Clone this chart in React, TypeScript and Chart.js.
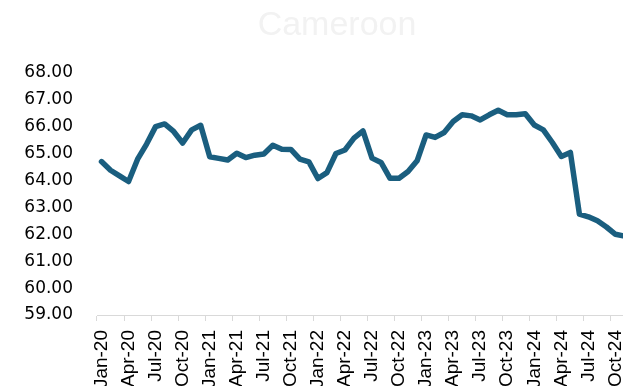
import React, { useEffect, useRef } from "react";
import { Chart, registerables } from "chart.js";

Chart.register(...registerables);

const TITLE = "Cameroon";

const categories = [
  "Jan-20", "Feb-20", "Mar-20", "Apr-20", "May-20", "Jun-20", "Jul-20", "Aug-20", "Sep-20", "Oct-20", "Nov-20", "Dec-20",
  "Jan-21", "Feb-21", "Mar-21", "Apr-21", "May-21", "Jun-21", "Jul-21", "Aug-21", "Sep-21", "Oct-21", "Nov-21", "Dec-21",
  "Jan-22", "Feb-22", "Mar-22", "Apr-22", "May-22", "Jun-22", "Jul-22", "Aug-22", "Sep-22", "Oct-22", "Nov-22", "Dec-22",
  "Jan-23", "Feb-23", "Mar-23", "Apr-23", "May-23", "Jun-23", "Jul-23", "Aug-23", "Sep-23", "Oct-23", "Nov-23", "Dec-23",
  "Jan-24", "Feb-24", "Mar-24", "Apr-24", "May-24", "Jun-24", "Jul-24", "Aug-24", "Sep-24", "Oct-24", "Nov-24", "Dec-24",
];

const values = [
  64.70, 64.38, 64.17, 63.96, 64.79, 65.35, 66.00, 66.10, 65.82, 65.39, 65.88, 66.05,
  64.88, 64.82, 64.76, 65.01, 64.85, 64.94, 64.98, 65.31, 65.16, 65.15, 64.79, 64.69,
  64.07, 64.29, 65.00, 65.13, 65.57, 65.84, 64.83, 64.67, 64.08, 64.08, 64.33, 64.73,
  65.69, 65.60, 65.78, 66.19, 66.44, 66.40, 66.25, 66.44, 66.61, 66.44, 66.44, 66.48,
  66.06, 65.88, 65.41, 64.89, 65.04, 62.75, 62.65, 62.50, 62.27, 62.00, 61.93, 61.85,
];

const Y_MIN = 59;
const Y_MAX = 68;
const Y_STEP = 1;
const LABEL_EVERY = 3;

export default function App() {
  const canvasRef = useRef<HTMLCanvasElement | null>(null);

  useEffect(() => {
    const canvas = canvasRef.current;
    if (!canvas) return;
    const chart = new Chart(canvas, {
      type: "line",
      data: {
        labels: categories,
        datasets: [
          {
            data: values,
            borderColor: "#1A5E7F",
            backgroundColor: "#1A5E7F",
            borderWidth: 5.5,
            pointRadius: 0,
            tension: 0,
            borderJoinStyle: "round",
            borderCapStyle: "round",
            fill: false,
          },
        ],
      },
      options: {
        responsive: false,
        animation: false,
        devicePixelRatio: 1,
        layout: { padding: 0 },
        plugins: {
          legend: { display: false },
          tooltip: { enabled: false },
          title: {
            display: true,
            text: TITLE,
            color: "#F2F2F2",
            font: { family: "'Liberation Sans', Arial, sans-serif", size: 34, weight: "normal" },
            padding: { top: 5, bottom: 27 },
          },
        },
        scales: {
          x: {
            type: "category",
            offset: true,
            afterFit: (s: any) => {
              s.height = 85;
            },
            grid: {
              display: true,
              offset: true,
              drawOnChartArea: false,
              drawTicks: true,
              tickLength: 6,
              color: (ctx: any) => (ctx.index % LABEL_EVERY === 0 ? "#D9D9D9" : "rgba(0,0,0,0)"),
            },
            border: { display: true, color: "#D9D9D9", width: 1 },
            ticks: {
              autoSkip: false,
              minRotation: 90,
              maxRotation: 90,
              padding: 9,
              color: "#000000",
              font: { family: "'Liberation Sans', Arial, sans-serif", size: 19 },
              callback: (_v: any, i: number) => (i % LABEL_EVERY === 0 ? categories[i] : ""),
            },
          },
          y: {
            type: "linear",
            position: "left",
            min: Y_MIN,
            max: Y_MAX,
            afterFit: (s: any) => {
              s.width = 97;
            },
            grid: { display: false, drawTicks: false },
            border: { display: false },
            ticks: {
              stepSize: Y_STEP,
              padding: 24,
              color: "#000000",
              font: { family: "'DejaVu Sans', sans-serif", size: 17 },
              callback: (v: any) => Number(v).toFixed(2),
            },
          },
          yRight: {
            type: "linear",
            position: "right",
            display: true,
            afterFit: (s: any) => {
              s.width = 36;
            },
            grid: { display: false, drawTicks: false },
            border: { display: false },
            ticks: { display: false },
          },
        },
      },
    });
    return () => {
      chart.destroy();
    };
  }, []);

  return (
    <div
      style={{
        position: "fixed",
        left: 0,
        top: 0,
        width: 623,
        height: 386,
        overflow: "hidden",
        background: "#ffffff",
      }}
    >
      <canvas ref={canvasRef} width={674} height={400} style={{ width: 674, height: 400, display: "block" }} />
    </div>
  );
}
